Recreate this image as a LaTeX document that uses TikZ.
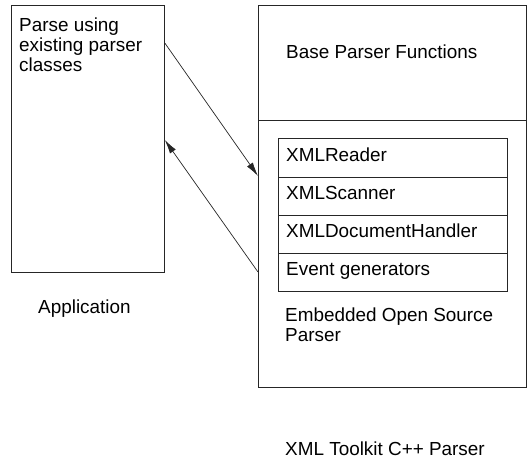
\documentclass[tikz,border=0pt]{standalone}
\usepackage{fontspec}
\setmainfont{Liberation Sans}
\usetikzlibrary{arrows.meta,calc}
\begin{document}
\begin{tikzpicture}[x=1pt,y=-1pt,
  box/.style={draw=black!85,line width=0.8pt,inner sep=0pt,anchor=north west},
  lbl/.style={inner sep=0pt,anchor=base west,font=\fontsize{18.9}{20}\selectfont,align=left},
  conn/.style={draw=black!85,line width=0.7pt,-{Latex[length=14pt,width=7pt]}}]
\useasboundingbox (0,0) rectangle (531,459);
% left box
\node[box,minimum width=153pt,minimum height=267pt] (app) at (11,5) {};
\node[lbl] (apptxt) at (19,71) {Parse using\\existing parser\\classes};
\node[lbl] (applbl) at (38,313) {Application};
% right box
\node[box,minimum width=268pt,minimum height=115pt] (base) at (258,5) {};
\node[box,minimum width=268pt,minimum height=267pt] (emb) at (258,120) {};
\node[lbl] (basetxt) at (286,58) {Base Parser Functions};
% inner rows
\node[box,minimum width=229pt,minimum height=39pt] (r1) at (278,138) {};
\node[box,minimum width=229pt,minimum height=38pt] (r2) at (278,177) {};
\node[box,minimum width=229pt,minimum height=38pt] (r3) at (278,215) {};
\node[box,minimum width=229pt,minimum height=38pt] (r4) at (278,253) {};
\node[lbl] (t1) at (286,161) {XMLReader};
\node[lbl] (t2) at (286,199) {XMLScanner};
\node[lbl] (t3) at (286,237) {XMLDocumentHandler};
\node[lbl] (t4) at (286,275) {Event generators};
\node[lbl] (embtxt) at (285,341) {Embedded Open Source\\Parser};
\node[lbl] (tk) at (285,455) {XML Toolkit C++ Parser};
% connectors
\coordinate (a1s) at ($(app.north east)+(0,38)$);
\coordinate (a1e) at ($(emb.north west)+(0,56)$);
\coordinate (a2s) at ($(emb.north west)+(0,152)$);
\coordinate (a2e) at ($(app.north east)+(0,135)$);
\draw[conn] (a1s) -- (a1e);
\draw[conn] (a2s) -- (a2e);
\end{tikzpicture}
\end{document}
